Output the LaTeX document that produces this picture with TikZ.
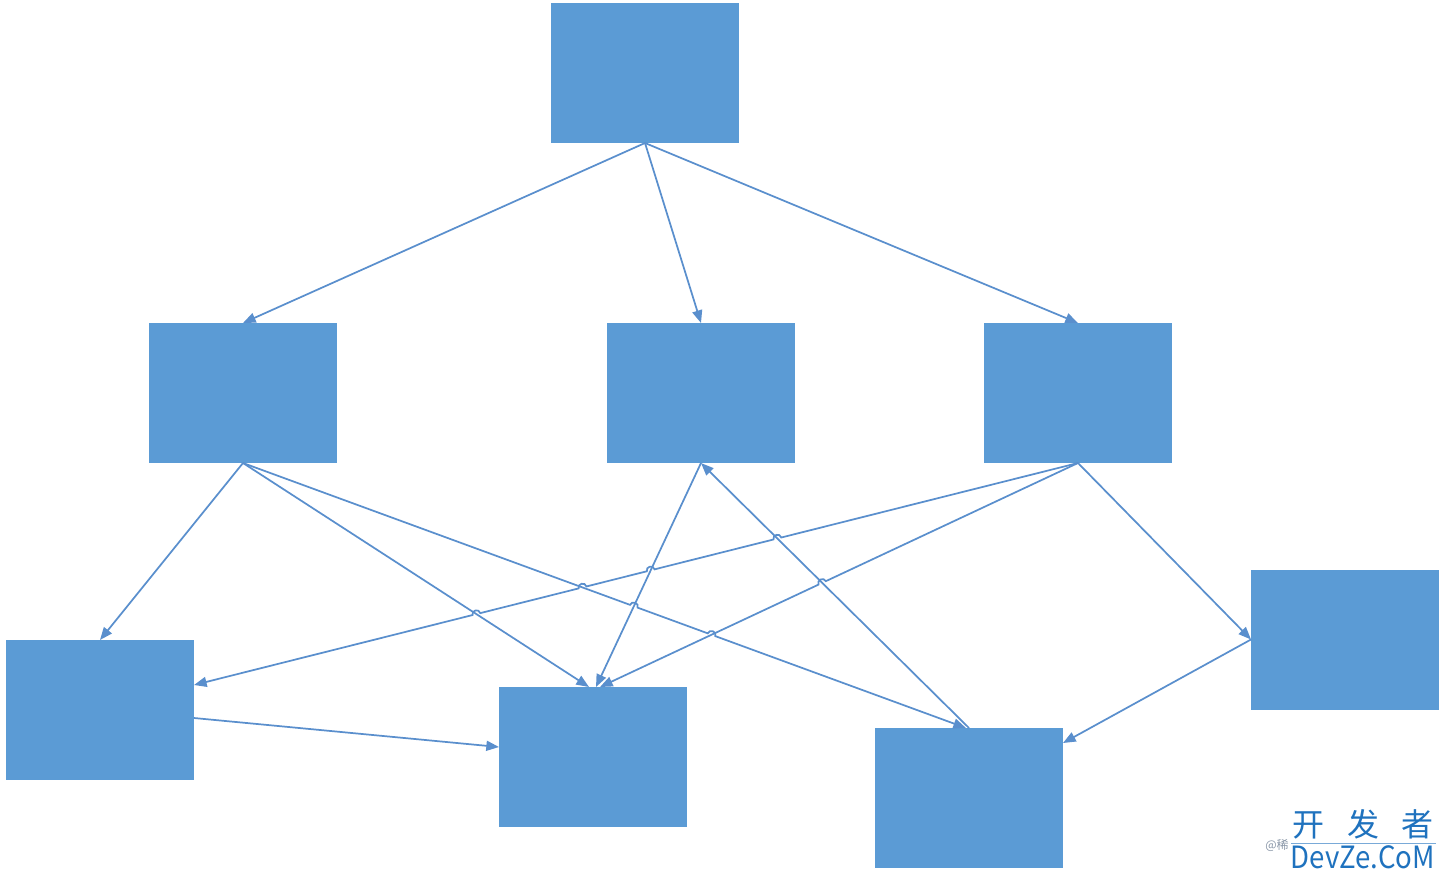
\documentclass[tikz,border=0pt]{standalone}
\usepackage{fontspec}
\newfontfamily\cjk{Noto Sans CJK SC}
\usetikzlibrary{arrows.meta,calc,intersections}
\definecolor{boxblue}{HTML}{5B9BD5}
\definecolor{lineblue}{HTML}{5A8FCD}
\definecolor{wmblue}{HTML}{1F72BE}
\definecolor{wmgray}{HTML}{8A97A8}
\tikzset{
  box/.style={fill=boxblue, draw=none, minimum width=141pt, minimum height=105pt, inner sep=0pt, outer sep=0pt},
  edge/.style={draw=lineblue, line width=1.3pt, -{Triangle[length=9.5pt,width=7.5pt]}},
  hopL/.style={bend left=90, looseness=1.6},
  hopR/.style={bend right=90, looseness=1.6},
  wmtext/.style={text=wmblue, inner sep=0pt, text depth=0pt, anchor=base}
}
\begin{document}
\begin{tikzpicture}[x=0.75pt,y=-0.75pt]
\useasboundingbox (0,0) rectangle (1446,878);
% boxes
\node[box] (T)  at (645,73) {};
\node[box] (L1) at (243,393) {};
\node[box] (M1) at (701,393) {};
\node[box] (R1) at (1078,393) {};
\node[box] (A)  at (100,710) {};
\node[box] (B)  at (593,757) {};
\node[box] (C)  at (969,798) {};
\node[box] (D)  at (1345,639.5) {};
% end points
\coordinate (raE) at ($(A.east)+(0,-25)$);
\coordinate (abS) at ($(A.east)+(0,8)$);
\coordinate (abE) at ($(B.west)+(0,-10)$);
\coordinate (lbE) at ($(B.north)+(-4,0)$);
\coordinate (mbE) at ($(B.north)+(3,0)$);
\coordinate (rbE) at ($(B.north)+(7,0)$);
\coordinate (lcE) at ($(C.north)+(-3,0)$);
\coordinate (dcE) at ($(C.east)+(0,-55)$);
% invisible paths for crossings
\path[name path=ra] (R1.south) -- (raE);
\path[name path=cm] (C.north) -- (M1.south);
\path[name path=mb] (M1.south) -- (mbE);
\path[name path=lc] (L1.south) -- (lcE);
\path[name path=lb] (L1.south) -- (lbE);
\path[name path=rb] (R1.south) -- (rbE);
\path[name intersections={of=ra and cm, by=x1}];
\path[name intersections={of=ra and mb, by=x2}];
\path[name intersections={of=ra and lc, by=x3}];
\path[name intersections={of=ra and lb, by=x4}];
\path[name intersections={of=lc and mb, by=x5}];
\path[name intersections={of=lc and rb, by=x6}];
\path[name intersections={of=rb and cm, by=x7}];
% connectors
\draw[edge] (T.south) -- (L1.north);
\draw[edge] (T.south) -- (M1.north);
\draw[edge] (T.south) -- (R1.north);
\draw[edge] (L1.south) -- (A.north);
\draw[edge] (L1.south) -- (lbE);
\draw[edge] (L1.south) -- ($(x5)!3pt!(L1.south)$) to[hopL] ($(x5)!3pt!(lcE)$)
  -- ($(x6)!3pt!(L1.south)$) to[hopL] ($(x6)!3pt!(lcE)$) -- (lcE);
\draw[edge] (M1.south) -- (mbE);
\draw[edge] (C.north) -- (M1.south);
\draw[edge] (R1.south) -- ($(x7)!3pt!(R1.south)$) to[hopR] ($(x7)!3pt!(rbE)$) -- (rbE);
\draw[edge] (R1.south) -- (D.west);
\draw[edge] (D.west) -- (dcE);
\draw[edge] (abS) -- (abE);
\draw[edge] (R1.south)
  -- ($(x1)!3pt!(R1.south)$) to[hopR] ($(x1)!3pt!(raE)$)
  -- ($(x2)!3pt!(R1.south)$) to[hopR] ($(x2)!3pt!(raE)$)
  -- ($(x3)!3pt!(R1.south)$) to[hopR] ($(x3)!3pt!(raE)$)
  -- ($(x4)!3pt!(R1.south)$) to[hopR] ($(x4)!3pt!(raE)$)
  -- (raE);
% watermark
\node[wmtext, font=\cjk\fontsize{24}{24}\selectfont, text height=19pt] (wm1) at (1363,836) {开\hspace{17pt}发\hspace{17pt}者};
\node[wmtext, font=\cjk\fontsize{23}{23}\selectfont, text height=16pt] (wm2) at (1363,868) {\scalebox{0.9}[1]{DevZe.CoM}};
\node[text=wmgray, font=\cjk\fontsize{9}{9}\selectfont, inner sep=0pt, anchor=east] (wm3) at (1289,845) {@稀};
\coordinate (ulA) at (1291,843);
\coordinate (ulB) at (1436,843);
\draw[wmblue!60, line width=0.5pt] (ulA) -- (ulB);
\end{tikzpicture}
\end{document}
